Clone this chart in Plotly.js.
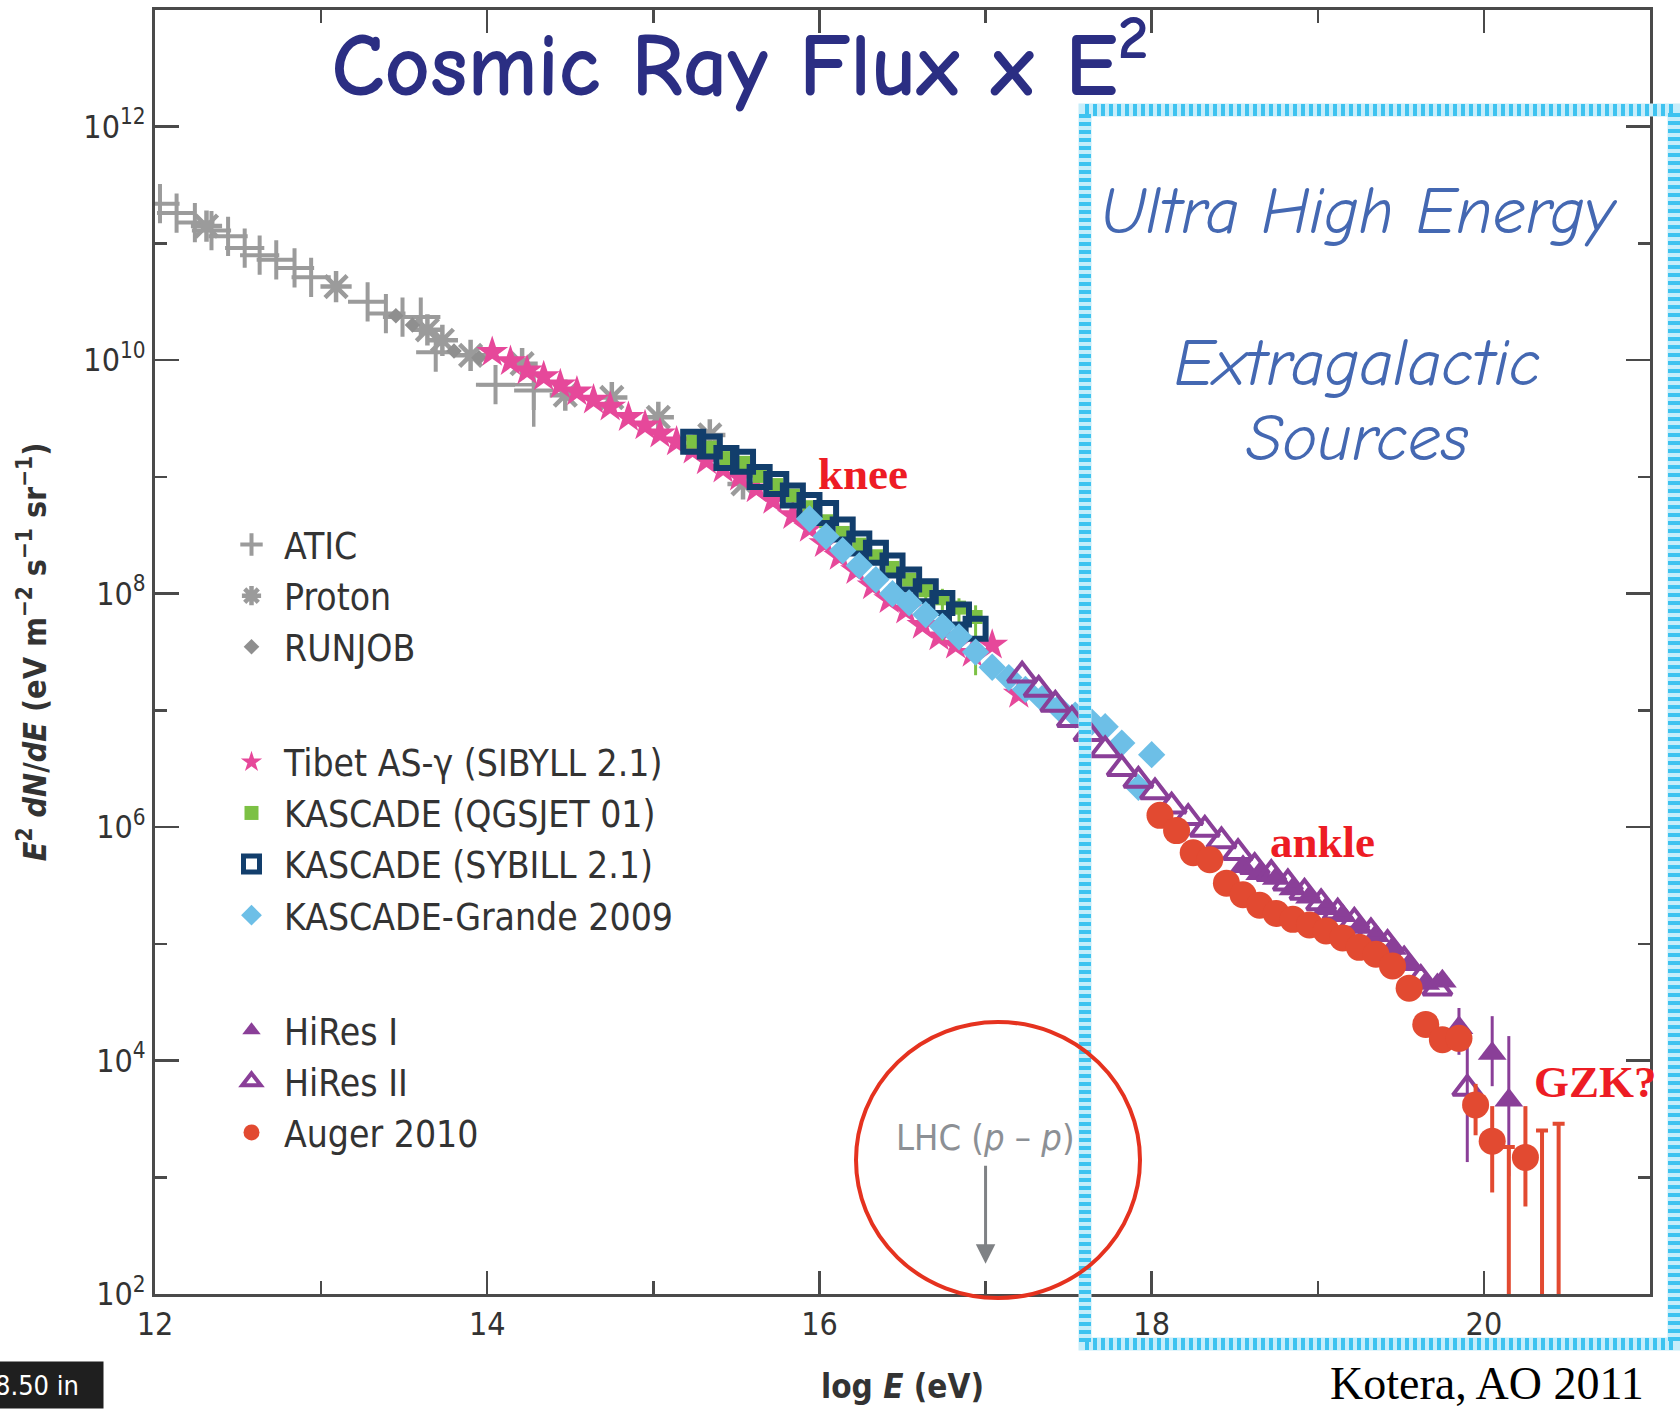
<!DOCTYPE html>
<html>
<head>
<meta charset="utf-8">
<script src="https://cdn.plot.ly/plotly-3.0.1.min.js"></script>
<style>
html,body{margin:0;padding:0;background:#ffffff;}
#chart{width:1680px;height:1409px;}
</style>
</head>
<body>
<div id="chart"></div>
<script>
// ---------------- DATA (x = log10 E [eV], y = E^2 dN/dE [eV m^-2 s^-1 sr^-1]) ----------------
const aticLogE  = [12.03, 12.13, 12.24, 12.34, 12.44, 12.54, 12.63, 12.73, 12.84, 12.94, 13.28, 13.39, 13.49, 13.60, 13.69, 14.05, 14.28];
const aticFlux  = [2.19e11, 1.82e11, 1.51e11, 1.29e11, 1.15e11, 9.12e10, 7.94e10, 7.24e10, 6.17e10, 5.13e10, 3.16e10, 2.51e10, 2.34e10, 2.34e10, 1.17e10, 6.17e9, 5.50e9];
const aticHigh  = [null, null, null, null, null, null, null, null, null, null, null, null, null, null, null, null, 6.76e9];
const aticLow   = [null, null, null, null, null, null, null, null, null, null, null, null, null, null, null, null, 2.69e9];
const aticBinLo = [null, null, null, null, null, null, null, null, null, null, null, null, null, null, null, 13.95, null];
const aticBinHi = [null, null, null, null, null, null, null, null, null, null, null, null, null, null, null, 14.29, null];

const protonLogE = [12.31, 13.09, 13.64, 13.73, 13.90, 14.21, 14.47, 14.75, 15.03, 15.34, 15.54];
const protonFlux = [1.41e11, 4.27e10, 1.82e10, 1.48e10, 1.10e10, 9.33e9, 5.01e9, 4.79e9, 3.24e9, 2.29e9, 8.71e8];

const runjobLogE = [13.45, 13.55, 13.80, 13.95];
const runjobFlux = [2.40e10, 2.00e10, 1.20e10, 1.05e10];

const tibetLogE = [14.03, 14.14, 14.24, 14.34, 14.44, 14.54, 14.64, 14.74, 14.85, 14.95, 15.04, 15.14, 15.24, 15.32, 15.42, 15.52, 15.62, 15.72, 15.84, 15.94, 16.03, 16.12, 16.22, 16.32, 16.42, 16.52, 16.62, 16.72, 16.82, 16.92, 17.04, 17.20];
const tibetFlux = [1.17e10, 9.77e9, 8.13e9, 7.24e9, 6.17e9, 5.37e9, 4.57e9, 3.98e9, 3.24e9, 2.75e9, 2.34e9, 2.00e9, 1.70e9, 1.38e9, 1.17e9, 1.00e9, 7.94e8, 6.31e8, 4.68e8, 3.63e8, 2.69e8, 2.09e8, 1.58e8, 1.17e8, 8.91e7, 7.24e7, 5.37e7, 4.27e7, 3.63e7, 3.09e7, 3.63e7, 1.38e7];

const kascadeLogE  = [15.24, 15.34, 15.44, 15.54, 15.64, 15.74, 15.84, 15.94, 16.04, 16.14, 16.24, 16.34, 16.44, 16.54, 16.64, 16.74, 16.84, 16.94];
const qgsjetFlux   = [2.00e9, 1.78e9, 1.45e9, 1.32e9, 1.02e9, 8.51e8, 6.92e8, 5.50e8, 4.17e8, 3.31e8, 2.63e8, 2.09e8, 1.66e8, 1.32e8, 1.07e8, 9.12e7, 7.59e7, 6.31e7];
const qgsjetHigh   = [null, null, null, null, null, null, null, null, null, null, null, null, null, null, 1.26e8, 1.10e8, 9.12e7, 7.94e7];
const qgsjetLow    = [null, null, null, null, null, null, null, null, null, null, null, null, null, null, 8.91e7, 3.98e7, 5.01e7, 2.00e7];
const sybillFlux   = [2.00e9, 1.82e9, 1.45e9, 1.35e9, 1.00e9, 8.71e8, 6.92e8, 5.75e8, 4.90e8, 3.55e8, 2.69e8, 2.24e8, 1.74e8, 1.32e8, 1.05e8, 8.32e7, 6.61e7, 5.01e7];

const grandeLogE = [15.94, 16.04, 16.14, 16.24, 16.34, 16.44, 16.54, 16.64, 16.74, 16.84, 16.94, 17.04, 17.14, 17.24, 17.34, 17.44, 17.54, 17.64, 17.72, 17.82, 17.92, 18.00];
const grandeFlux = [4.37e8, 3.09e8, 2.34e8, 1.74e8, 1.32e8, 1.00e8, 8.32e7, 6.61e7, 5.25e7, 4.27e7, 3.16e7, 2.34e7, 1.91e7, 1.51e7, 1.26e7, 1.05e7, 9.12e6, 7.94e6, 7.24e6, 5.25e6, 2.19e6, 4.17e6];

const hires1LogE = [18.55, 18.65, 18.75, 18.85, 18.95, 19.05, 19.15, 19.25, 19.35, 19.45, 19.55, 19.65, 19.75, 19.85, 20.05, 20.15];
const hires1Flux = [4.57e5, 3.98e5, 3.63e5, 2.95e5, 2.51e5, 2.00e5, 1.74e5, 1.38e5, 1.17e5, 9.12e4, 6.61e4, 4.57e4, 4.79e4, 1.91e4, 1.15e4, 4.57e3];
const hires1High = [null, null, null, null, null, null, null, null, null, null, null, null, null, 2.82e4, 2.40e4, 1.62e4];
const hires1Low  = [null, null, null, null, null, null, null, null, null, null, null, null, null, 1.12e4, 6.03e3, 1.02e3];

const hires2LogE = [17.22, 17.32, 17.42, 17.52, 17.62, 17.72, 17.82, 17.92, 18.02, 18.12, 18.22, 18.32, 18.42, 18.52, 18.62, 18.72, 18.82, 18.92, 19.02, 19.12, 19.22, 19.32, 19.42, 19.52, 19.62, 19.72, 19.90];
const hires2Flux = [2.00e7, 1.51e7, 1.12e7, 8.32e6, 6.31e6, 4.57e6, 3.16e6, 2.51e6, 2.00e6, 1.51e6, 1.20e6, 9.55e5, 7.59e5, 6.03e5, 4.57e5, 3.98e5, 3.31e5, 2.75e5, 2.24e5, 1.86e5, 1.55e5, 1.26e5, 1.00e5, 7.24e4, 5.01e4, 4.17e4, 5.75e3];
const hires2High = [null, null, null, null, null, null, null, null, null, null, null, null, null, null, null, null, null, null, null, null, null, null, null, null, null, null, 1.51e4];
const hires2Low  = [null, null, null, null, null, null, null, null, null, null, null, null, null, null, null, null, null, null, null, null, null, null, null, null, null, null, 1.35e3];

const augerLogE = [18.05, 18.15, 18.25, 18.35, 18.45, 18.55, 18.65, 18.75, 18.85, 18.95, 19.05, 19.15, 19.25, 19.35, 19.45, 19.55, 19.65, 19.75, 19.85, 19.95, 20.05, 20.25];
const augerFlux = [1.26e6, 9.33e5, 6.03e5, 5.25e5, 3.31e5, 2.63e5, 2.14e5, 1.82e5, 1.62e5, 1.45e5, 1.29e5, 1.12e5, 9.33e4, 8.13e4, 6.46e4, 4.17e4, 2.04e4, 1.51e4, 1.55e4, 4.17e3, 2.04e3, 1.48e3];
const augerHigh = [null, null, null, null, null, null, null, null, null, null, null, null, null, null, null, null, null, null, null, 6.31e3, 4.07e3, 4.07e3];
const augerLow  = [null, null, null, null, null, null, null, null, null, null, null, null, null, null, null, null, null, null, null, 2.29e3, 7.41e2, 5.62e2];
// Auger bins with upper limits only (bar runs down off the axis)
const augerLimitLogE = [20.15, 20.35, 20.45];
const augerLimitFlux = [1.82e3, 2.51e3, 2.88e3];

const yTickExp = [2, 4, 6, 8, 10, 12];   // labelled decades
const xTicks   = [12, 14, 16, 18, 20];

// ---------------- helpers ----------------
function plusErr(v, hi)  { return v.map((y, i) => hi[i] == null ? 0 : hi[i] - y); }
function minusErr(v, lo) { return v.map((y, i) => lo[i] == null ? 0 : y - lo[i]); }

const NARROW = 'Liberation Sans Narrow, Arial Narrow, DejaVu Sans Condensed, sans-serif';
const COMIC  = 'Comic Sans MS, Comic Neue, Lato, sans-serif';
const SERIF  = 'Liberation Serif, Times New Roman, serif';
const GRAY = '#9b9b9b', PINK = '#e6489a', GREEN = '#7cc144', NAVY = '#123e6c',
      LBLUE = '#6dbfe7', PURPLE = '#8a3f98', RED = '#e24a31';

const traces = [
  { x: aticLogE, y: aticFlux, name: 'ATIC', legendgroup: 'g1', mode: 'markers', type: 'scatter',
    marker: { symbol: 'cross-thin-open', size: 28, color: GRAY, line: { width: 4, color: GRAY } },
    error_y: { type: 'data', symmetric: false, array: plusErr(aticFlux, aticHigh), arrayminus: minusErr(aticFlux, aticLow), color: GRAY, thickness: 3.5, width: 0 },
    error_x: { type: 'data', symmetric: false, array: plusErr(aticLogE, aticBinHi), arrayminus: minusErr(aticLogE, aticBinLo), color: GRAY, thickness: 3.5, width: 0 } },
  { x: protonLogE, y: protonFlux, name: 'Proton', legendgroup: 'g1', mode: 'markers', type: 'scatter',
    marker: { symbol: 'asterisk-open', size: 26, color: GRAY, line: { width: 4.5, color: GRAY } } },
  { x: runjobLogE, y: runjobFlux, name: 'RUNJOB', legendgroup: 'g1', mode: 'markers', type: 'scatter',
    marker: { symbol: 'diamond', size: 12, color: '#8f8f8f' } },
  { x: tibetLogE, y: tibetFlux, name: 'Tibet AS-γ (SIBYLL 2.1)', legendgroup: 'g2', mode: 'markers', type: 'scatter',
    marker: { symbol: 'star', size: 24, color: PINK } },
  { x: kascadeLogE, y: qgsjetFlux, name: 'KASCADE (QGSJET 01)', legendgroup: 'g2', mode: 'markers', type: 'scatter',
    marker: { symbol: 'square', size: 14, color: GREEN },
    error_y: { type: 'data', symmetric: false, array: plusErr(qgsjetFlux, qgsjetHigh), arrayminus: minusErr(qgsjetFlux, qgsjetLow), color: GREEN, thickness: 3, width: 0 } },
  { x: kascadeLogE, y: sybillFlux, name: 'KASCADE (SYBILL 2.1)', legendgroup: 'g2', mode: 'markers', type: 'scatter',
    marker: { symbol: 'square-open', size: 20, color: NAVY, line: { width: 6, color: NAVY } } },
  { x: grandeLogE, y: grandeFlux, name: 'KASCADE-Grande 2009', legendgroup: 'g2', mode: 'markers', type: 'scatter',
    marker: { symbol: 'diamond', size: 21, color: LBLUE } },
  { x: hires1LogE, y: hires1Flux, name: 'HiRes I', legendgroup: 'g3', mode: 'markers', type: 'scatter',
    marker: { symbol: 'triangle-up', size: 25, color: PURPLE },
    error_y: { type: 'data', symmetric: false, array: plusErr(hires1Flux, hires1High), arrayminus: minusErr(hires1Flux, hires1Low), color: PURPLE, thickness: 3, width: 0 } },
  { x: hires2LogE, y: hires2Flux, name: 'HiRes II', legendgroup: 'g3', mode: 'markers', type: 'scatter',
    marker: { symbol: 'triangle-up-open', size: 25, color: PURPLE, line: { width: 4, color: PURPLE } },
    error_y: { type: 'data', symmetric: false, array: plusErr(hires2Flux, hires2High), arrayminus: minusErr(hires2Flux, hires2Low), color: PURPLE, thickness: 3, width: 0 } },
  { x: augerLogE, y: augerFlux, name: 'Auger 2010', legendgroup: 'g3', mode: 'markers', type: 'scatter',
    marker: { symbol: 'circle', size: 27, color: RED },
    error_y: { type: 'data', symmetric: false, array: plusErr(augerFlux, augerHigh), arrayminus: minusErr(augerFlux, augerLow), color: RED, thickness: 4, width: 0 } },
  { x: augerLimitLogE, y: augerLimitFlux, name: 'Auger 2010 (limits)', legendgroup: 'g3', showlegend: false, mode: 'markers', type: 'scatter',
    marker: { symbol: 'circle', size: 2, color: RED, opacity: 0 },
    error_y: { type: 'data', symmetric: false, array: augerLimitFlux.map(() => 0), arrayminus: augerLimitFlux.map(v => v * 0.999), color: RED, thickness: 4, width: 6 } }
];

// plot-area helpers for paper-positioned decorations
const L = 155, R = 30, T = 10, B = 115, W = 1680, H = 1409;
const PW = W - L - R, PH = H - T - B;
const px = v => (v - L) / PW;
const py = v => (H - B - v) / PH;

const axisCommon = {
  showline: true, linecolor: '#4a4a4a', linewidth: 3, mirror: 'ticks',
  ticks: 'inside', tickcolor: '#4a4a4a', tickwidth: 2.5,
  showgrid: false, zeroline: false,
  tickfont: { family: NARROW, size: 32, color: '#333333' }
};

function note(text, x, y, font) {
  return { text: text, xref: 'paper', yref: 'paper', x: px(x), y: py(y),
           xanchor: 'center', yanchor: 'middle', showarrow: false, font: font };
}
const uheFont  = { family: COMIC, size: 66, color: '#4468b2' };
const markFont = { family: SERIF, size: 45, color: '#ed1c24' };

const layout = {
  width: W, height: H,
  margin: { l: L, r: R, t: T, b: B },
  paper_bgcolor: '#ffffff', plot_bgcolor: '#ffffff',
  showlegend: true,
  title: { text: 'Cosmic Ray Flux x E<sup>2</sup>', xref: 'container', yref: 'container',
           x: 740 / W, y: 1 - 64 / H, xanchor: 'center', yanchor: 'middle',
           font: { family: COMIC, size: 88, color: '#2b2e83', weight: 700 } },
  xaxis: Object.assign({}, axisCommon, {
    range: [12, 21], tickmode: 'array', tickvals: xTicks, ticktext: xTicks.map(String), ticklen: 23,
    minor: { dtick: 1, tick0: 12, ticks: 'inside', ticklen: 13, tickwidth: 2.5, tickcolor: '#4a4a4a' },
    title: { text: '<b>log <i>E</i> (eV)</b>', font: { family: NARROW, size: 33, color: '#333333' }, standoff: 33 }
  }),
  yaxis: Object.assign({}, axisCommon, {
    type: 'log', range: [2, 13], tickmode: 'array', tickvals: yTickExp.map(e => Math.pow(10, e)),
    ticktext: yTickExp.map(e => '10<sup>' + e + '</sup>'), ticklen: 24,
    minor: { dtick: 1, tick0: 0, ticks: 'inside', ticklen: 12, tickwidth: 2.5, tickcolor: '#4a4a4a' },
    title: { text: '<b><i>E</i><sup>2</sup> <i>dN</i>/<i>dE</i> (eV m<sup>−2</sup> s<sup>−1</sup> sr<sup>−1</sup>)</b>',
             font: { family: NARROW, size: 32, color: '#333333' }, standoff: 28 }
  }),
  legend: {
    x: px(219), y: py(514), xanchor: 'left', yanchor: 'top',
    bgcolor: 'rgba(0,0,0,0)', borderwidth: 0,
    font: { family: NARROW, size: 37, color: '#333333' },
    traceorder: 'grouped', tracegroupgap: 64, itemwidth: 55
  },
  shapes: [
    // dashed cyan box around the UHE region
    { type: 'rect', xref: 'paper', yref: 'paper', x0: px(1085), x1: px(1674), y0: py(1344), y1: py(110),
      line: { color: '#c6edfa', width: 13 }, layer: 'above' },
    { type: 'rect', xref: 'paper', yref: 'paper', x0: px(1085), x1: px(1674), y0: py(1344), y1: py(110),
      line: { color: '#3ec3f0', width: 12, dash: '4px,4px' }, layer: 'above' },
    // red circle around LHC energy
    { type: 'circle', xref: 'paper', yref: 'paper', x0: px(856), x1: px(1140), y0: py(1298), y1: py(1022),
      line: { color: '#e5321f', width: 4 }, layer: 'above' }
  ],
  annotations: [
    note('<i>Ultra High Energy</i>', 1359, 212, uheFont),
    note('<i>Extragalactic</i>', 1357, 364, uheFont),
    note('<i>Sources</i>', 1357, 439, uheFont),
    note('<b>knee</b>', 863, 474, markFont),
    note('<b>ankle</b>', 1322, 842, markFont),
    note('<b>GZK?</b>', 1595, 1082, markFont),
    { text: 'LHC (<i>p</i> – <i>p</i>)', xref: 'x', yref: 'y', x: 17, y: 2.26,
      showarrow: true, ax: 0, ay: -126, arrowhead: 2, arrowsize: 1.3, arrowwidth: 3, arrowcolor: '#7f8285',
      startstandoff: 6, font: { family: NARROW, size: 36, color: '#8c9095' } },
    note('Kotera, AO 2011', 1487, 1383, { family: SERIF, size: 46, color: '#000000' }),
    { text: '8.50 in', xref: 'paper', yref: 'paper', x: px(-10), y: py(1409), xanchor: 'left', yanchor: 'bottom',
      showarrow: false, width: 104, height: 38, align: 'left', bgcolor: '#1f1f1f', borderpad: 4,
      font: { family: NARROW, size: 27, color: '#ffffff' } }
  ]
};

Plotly.newPlot('chart', traces, layout, { displayModeBar: false, staticPlot: true });
</script>
</body>
</html>
